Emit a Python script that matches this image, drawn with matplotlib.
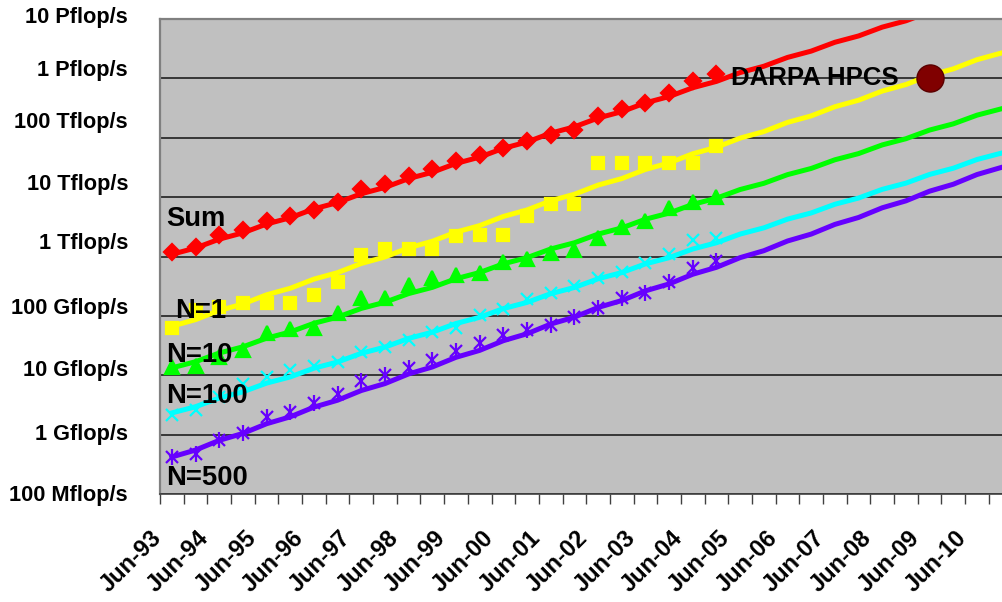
import numpy as np
import matplotlib.pyplot as plt
from matplotlib.ticker import NullLocator
from matplotlib.transforms import ScaledTranslation

plt.rcParams['font.family'] = ['Liberation Sans', 'DejaVu Sans']
plt.rcParams['font.weight'] = 'bold'

# half-yearly lists, performance in Gflop/s
categories = ['Jun-93', 'Nov-93', 'Jun-94', 'Nov-94', 'Jun-95', 'Nov-95',
              'Jun-96', 'Nov-96', 'Jun-97', 'Nov-97', 'Jun-98', 'Nov-98',
              'Jun-99', 'Nov-99', 'Jun-00', 'Nov-00', 'Jun-01', 'Nov-01',
              'Jun-02', 'Nov-02', 'Jun-03', 'Nov-03', 'Jun-04', 'Nov-04',
              'Jun-05', 'Nov-05', 'Jun-06', 'Nov-06', 'Jun-07', 'Nov-07',
              'Jun-08', 'Nov-08', 'Jun-09', 'Nov-09', 'Jun-10', 'Nov-10']

sum_perf = [1185, 1473, 2320, 2741, 3887, 4719, 6120, 8188, 13670, 16790,
            22290, 29700, 39900, 50350, 67080, 89060, 112400, 136500,
            228800, 308400, 384800, 556300, 889700, 1200000]
n1_perf = [62.1, 124, 143, 167.6, 167.6, 167.6, 226, 378.7, 1067, 1331,
           1331, 1331, 2172, 2320, 2320, 4850, 7726, 7726, 37490, 37490,
           37490, 37490, 37490, 71400]
n10_perf = [13.98, 14.37, 20, 26.7, 51.7, 59.7, 62.1, 111.1, 203.5, 203.5,
            333.2, 432, 491.2, 537, 823, 903, 1167, 1296, 2041, 3080, 3887,
            6538, 8124, 9865]
n100_perf = [2.145, 2.605, 4.365, 7.145, 9.49, 12.07, 14.37, 16.79, 25.03,
             30.39, 39.4, 54.4, 62.1, 104, 129.8, 193.5, 241.4, 316.8, 442.2,
             558.2, 773.4, 1110, 1910, 2041]
n500_perf = [0.4253, 0.4723, 0.8131, 1.075, 1.947, 2.439, 3.379, 4.754,
             7.875, 10.13, 13.15, 18.13, 26.02, 34.67, 47.86, 58.1, 70.55,
             97.36, 134.9, 198.8, 241.4, 378.7, 637.3, 855.3]

# fitted trend lines for every list up to Nov-10
sum_trend = [1088, 1390, 1958, 2501, 3522, 4500, 6338, 8097, 11400, 14570,
             20520, 26210, 36920, 47170, 66430, 84870, 119500, 152700,
             215100, 274800, 387000, 494400, 696200, 889500, 1253000,
             1601000, 2254000, 2880000, 4056000, 5182000, 7297000, 9323000,
             13130000, 16780000, 23630000, 30180000]
n1_trend = [67.1, 86.4, 123.2, 158.7, 226.3, 291.4, 415.6, 535.1, 763.1,
            982.6, 1401, 1805, 2574, 3314, 4726, 6085, 8679, 11180, 15940,
            20520, 29270, 37690, 53750, 69210, 98710, 127100, 181300, 233400,
            332900, 428600, 611300, 787100, 1123000, 1445000, 2062000, 2654000]
n10_trend = [13.30, 16.91, 23.67, 30.10, 42.13, 53.57, 74.98, 95.34, 133.5,
             169.7, 237.5, 302.0, 422.7, 537.5, 752.4, 956.6, 1339, 1703,
             2383, 3030, 4242, 5393, 7550, 9599, 13440, 17080, 23920, 30410,
             42560, 54120, 75760, 96320, 134800, 171400, 240000, 305100]
n100_trend = [2.319, 2.951, 4.134, 5.261, 7.369, 9.377, 13.14, 16.72, 23.42,
              29.80, 41.74, 53.12, 74.41, 94.69, 132.6, 168.8, 236.4, 300.9,
              421.5, 536.4, 751.3, 956.1, 1339, 1704, 2388, 3038, 4256, 5416,
              7587, 9655, 13520, 17210, 24110, 30680, 42980, 54690]
n500_trend = [0.4203, 0.5497, 0.8005, 1.047, 1.525, 1.994, 2.904, 3.798,
              5.531, 7.233, 10.53, 13.78, 20.06, 26.24, 38.21, 49.97, 72.78,
              95.18, 138.6, 181.3, 264.0, 345.3, 502.8, 657.6, 957.7, 1252,
              1824, 2385, 3474, 4543, 6616, 8653, 12600, 16480, 24000, 31390]

darpa_label = 'DARPA HPCS'
darpa_date = 'Jun-09'
darpa_perf = 1e6

ytick_vals = [0.1, 1, 10, 100, 1e3, 1e4, 1e5, 1e6, 1e7]
ytick_labels = ['100 Mflop/s', '1 Gflop/s', '10 Gflop/s', '100 Gflop/s',
                '1 Tflop/s', '10 Tflop/s', '100 Tflop/s', '1 Pflop/s',
                '10 Pflop/s']

W, H = 1002, 602
fig = plt.figure(figsize=(W / 100, H / 100), dpi=100)
# plot area runs past the right edge of the picture, as in the original
ax = fig.add_axes([160 / W, 1 - 494 / H, 852.5 / W, 475 / H])
ax.set_facecolor('#c0c0c0')

def axfrac(px, py):
    return (px - 160) / 852.5, (494 - py) / 475

x = np.arange(len(categories))
n = len(sum_perf)
purple = '#6600ff'

series = [
    (sum_trend, sum_perf, 'red', 'D', 8.5),
    (n1_trend, n1_perf, '#ffff00', 's', 9),
    (n10_trend, n10_perf, '#00ff00', '^', 10),
    (n100_trend, n100_perf, '#00ffff', 'x', 9),
    (n500_trend, n500_perf, purple, 'x', 9),
]
for trend, perf, col, mk, ms in series:
    ax.plot(x, trend, color=col, lw=3.6, zorder=2)
    ax.plot(x[:n], perf, ls='none', marker=mk, ms=ms, color=col,
            mew=1.6, zorder=3)
ax.plot(x[:n], n500_perf, ls='none', marker='|', ms=11, color=purple,
        mew=1.6, zorder=3)

ax.plot(categories.index(darpa_date), darpa_perf, 'o', ms=19.5,
        color='#800000', mec='#5a0000', mew=1, zorder=4)
ax.text(*axfrac(731, 85), darpa_label, transform=ax.transAxes,
        fontsize=18.5, va='baseline', ha='left', zorder=5)

for label, (px, py) in [('Sum', (166, 226.5)), ('N=1', (175, 318)),
                        ('N=10', (166, 361.5)), ('N=100', (166, 403)),
                        ('N=500', (166, 485))]:
    ax.text(*axfrac(px, py), label, transform=ax.transAxes, fontsize=19.7,
            va='baseline', ha='left', zorder=5)

ax.set_yscale('log')
ax.set_ylim(0.1, 1e7)
ax.set_xlim(-0.5, len(categories) - 0.5)
ax.set_yticks(ytick_vals)
ax.set_yticklabels(ytick_labels)
ax.yaxis.set_minor_locator(NullLocator())
ax.tick_params(axis='y', length=0, pad=23, labelsize=15.7)
ax.yaxis.grid(True, color='#202020', lw=1.2)
ax.set_axisbelow(True)

# tick marks between categories, labels on every June list
ax.set_xticks(np.arange(-0.5, len(categories), 1))
ax.set_xticklabels([])
ax.set_xticks(x[::2], minor=True)
ax.set_xticklabels(categories[::2], minor=True)
ax.tick_params(axis='x', which='major', length=7, width=1, color='#404040')
ax.tick_params(axis='x', which='minor', length=0, pad=23, labelsize=17)

# the hand-placed axis labels of the original sit a little off the grid
y_shift = [-1.5, 0, 5, 7, 13, 13, 15, 8, 1.5]
for lab, dy in zip(ax.get_yticklabels(), y_shift):
    lab.set_verticalalignment('center')
    lab.set_transform(lab.get_transform() +
                      ScaledTranslation(0, dy / 100, fig.dpi_scale_trans))
for lab in ax.get_xticklabels(minor=True):
    lab.set_rotation(45)
    lab.set_ha('right')
    lab.set_va('top')
    lab.set_rotation_mode('anchor')
    lab.set_transform(lab.get_transform() +
                      ScaledTranslation(-22 / 100, 0, fig.dpi_scale_trans))

ax.spines['right'].set_visible(False)
ax.spines['top'].set_color('#808080')
ax.spines['left'].set_color('#808080')
ax.spines['top'].set_linewidth(1.6)
ax.spines['left'].set_linewidth(1.6)
ax.spines['bottom'].set_color('#404040')
ax.spines['bottom'].set_linewidth(1.2)

fig.savefig('out.png', dpi=100)
